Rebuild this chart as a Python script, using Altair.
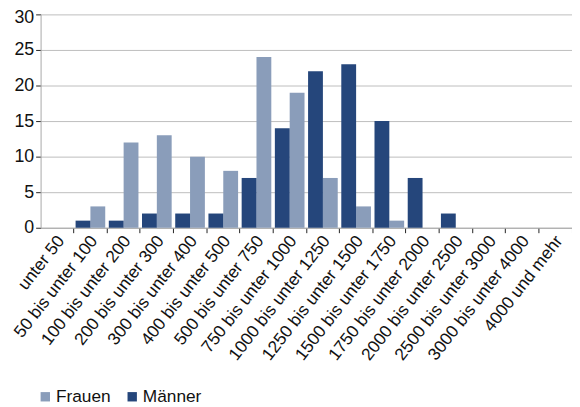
import altair as alt
import pandas as pd

categories = [
    "unter 50", "50 bis unter 100", "100 bis unter 200", "200 bis unter 300",
    "300 bis unter 400", "400 bis unter 500", "500 bis unter 750",
    "750 bis unter 1000", "1000 bis unter 1250", "1250 bis unter 1500",
    "1500 bis unter 1750", "1750 bis unter 2000", "2000 bis unter 2500",
    "2500 bis unter 3000", "3000 bis unter 4000", "4000 und mehr",
]
frauen = [0, 3, 12, 13, 10, 8, 24, 19, 7, 3, 1, 0, 0, 0, 0, 0]
maenner = [0, 1, 1, 2, 2, 2, 7, 14, 22, 23, 15, 7, 2, 0, 0, 0]
series = ["Frauen", "Männer"]
colors = ["#8A9DBA", "#25467B"]
y_ticks = [0, 5, 10, 15, 20, 25, 30]

rows = []
for c, f, m in zip(categories, frauen, maenner):
    rows.append({"Kategorie": c, "Geschlecht": "Frauen", "Anzahl": f})
    rows.append({"Kategorie": c, "Geschlecht": "Männer", "Anzahl": m})
df = pd.DataFrame(rows)

FONT = "Liberation Sans"

chart = alt.Chart(df).mark_bar().encode(
    x=alt.X(
        "Kategorie:N",
        sort=categories,
        scale=alt.Scale(paddingInner=0, paddingOuter=0),
        axis=alt.Axis(
            title=None,
            labelAngle=-52,
            labelAlign="right",
            labelBaseline="middle",
            labelPadding=5,
            labelOffset=4,
            labelFontSize=17.5,
            labelColor="#111111",
            bandPosition=1,
            tickColor="#222222",
            tickSize=5,
            domainColor="#A8A8A8",
            grid=False,
            labelOverlap=False,
            labelBound=False,
            labelFlush=False,
            labelLimit=400,
        ),
    ),
    xOffset=alt.XOffset(
        "Geschlecht:N",
        sort=["Männer", "Frauen"],
        scale=alt.Scale(paddingInner=0, paddingOuter=0.12),
    ),
    y=alt.Y(
        "Anzahl:Q",
        scale=alt.Scale(domain=[0, 30], nice=False),
        axis=alt.Axis(
            title=None,
            values=y_ticks,
            labelFontSize=18,
            labelColor="#111111",
            labelPadding=2,
            labelOffset=alt.expr("datum.value == 30 ? 3 : 0"),
            tickColor="#222222",
            tickSize=5,
            domainColor="#A8A8A8",
            gridColor="#BDBDBD",
            gridWidth=1,
        ),
    ),
    color=alt.Color(
        "Geschlecht:N",
        scale=alt.Scale(domain=series, range=colors),
        legend=alt.Legend(
            title=None,
            orient="none",
            direction="horizontal",
            legendX=-4,
            legendY=378,
            padding=0,
            symbolType="square",
            symbolSize=90,
            symbolStrokeWidth=0,
            labelFontSize=17.5,
            labelColor="#111111",
            labelOffset=2,
            columnPadding=13,
        ),
    ),
).properties(
    width=538,
    height=216,
    autosize=alt.AutoSizeParams(type="none"),
    padding={"left": 33, "top": 4, "right": 0, "bottom": 179},
).configure(
    font=FONT,
).configure_view(
    stroke=None,
)

chart.save("out.html", embed_options={"renderer": "svg", "actions": False})
